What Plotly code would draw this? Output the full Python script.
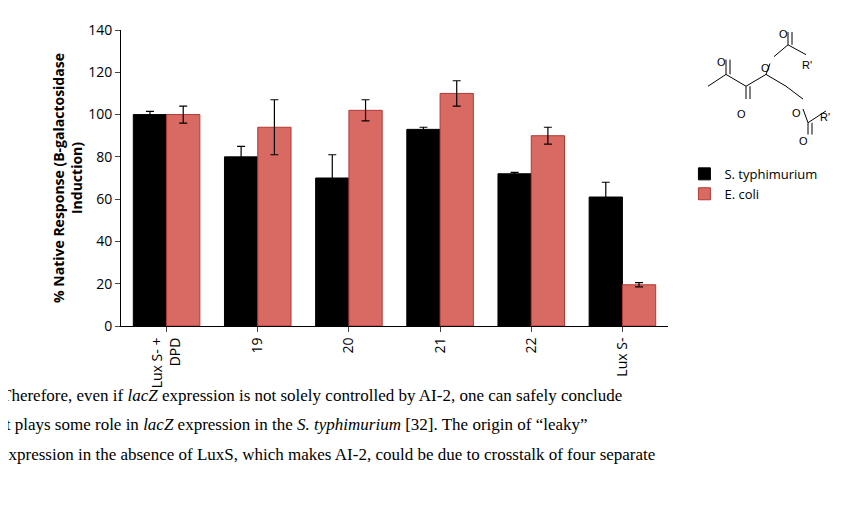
import plotly.graph_objects as go

categories = ["Lux S- +<br>DPD", "19", "20", "21", "22", "Lux S-"]
s_typh = [100, 80, 70, 93, 72, 61]
s_typh_err = [1.5, 5, 11, 1, 0.7, 7]
e_coli = [100, 94, 102, 110, 90, 19.5]
e_coli_err = [4, 13, 5, 6, 4, 1]

W, H = 851, 507
L, R, T, B = 113, 191, 18, 189
pw, ph = W - L - R, H - T - B
def px(x): return (x - L) / pw
def py(y): return (H - B - y) / ph

fig = go.Figure()
fig.add_bar(x=categories, y=s_typh, name="S. typhimurium", marker=dict(color="black", line=dict(color="black", width=1)),
            error_y=dict(type="data", array=s_typh_err, color="black", thickness=1.2, width=4))
fig.add_bar(x=categories, y=e_coli, name="E. coli", marker=dict(color="#d96a63", line=dict(color="#b03a33", width=1)),
            error_y=dict(type="data", array=e_coli_err, color="black", thickness=1.2, width=4))

fig.update_layout(
    width=W, height=H, margin=dict(l=L, r=R, t=T, b=B),
    plot_bgcolor="white", paper_bgcolor="white",
    bargap=0.27, bargroupgap=0,
    font=dict(family="Open Sans, Liberation Sans", size=13, color="black"),
    legend=dict(x=1.03, y=0.48, xanchor="left", yanchor="middle", font=dict(size=13), tracegroupgap=6),
    showlegend=True,
)
fig.update_yaxes(range=[0, 140], dtick=20, showline=True, linecolor="black", showgrid=False, ticks="outside",
                 ticklen=5, tickfont=dict(size=14),
                 title=dict(text="<b>% Native Response (B-galactosidase<br>Induction)</b>", font=dict(size=14), standoff=2))
fig.update_xaxes(showline=True, linecolor="black", tickangle=-90, ticks="outside", ticklen=5, tickfont=dict(size=14))

# chemical structure
lines = [((700, 75), (718, 63)), ((718, 63), (738, 75)), ((738, 75), (758, 63)), ((758, 63), (778, 75)),
         ((778, 75), (795, 88)), ((718, 63), (718, 48)), ((722, 63), (722, 48)), ((738, 75), (738, 88)),
         ((742, 75), (742, 88)), ((758, 63), (762, 52)), ((766, 45), (780, 33)), ((780, 33), (780, 20)),
         ((784, 33), (784, 20)), ((780, 33), (798, 43)), ((795, 98), (800, 112)), ((800, 112), (818, 100)),
         ((800, 112), (800, 124)), ((804, 112), (804, 124))]
for (x0, y0), (x1, y1) in lines:
    fig.add_shape(type="line", xref="paper", yref="paper", x0=px(x0), y0=py(y0), x1=px(x1), y1=py(y1),
                  line=dict(color="black", width=1))
for x, y, t in [(720, 42, "O"), (740, 95, "O"), (764, 48, "O"), (782, 14, "O"), (806, 45, "R'"),
                (795, 94, "O"), (824, 98, "R'"), (802, 131, "O")]:
    fig.add_annotation(xref="paper", yref="paper", x=px(x), y=py(y), text=t, showarrow=False,
                       font=dict(size=11, family="Liberation Sans"))

txt = ["Therefore, even if <i>lacZ</i> expression is not solely controlled by AI-2, one can safely conclude",
       "it plays some role in <i>lacZ</i> expression in the <i>S. typhimurium</i> [32]. The origin of “leaky”",
       "expression in the absence of LuxS, which makes AI-2, could be due to crosstalk of four separate"]
for i, t in enumerate(txt):
    fig.add_annotation(xref="paper", yref="paper", x=px(-9), y=py(388 + 30 * i), text=t, showarrow=False,
                       xanchor="left", yanchor="middle",
                       font=dict(size=17, family="Liberation Serif"))

fig.write_html("out.html")
